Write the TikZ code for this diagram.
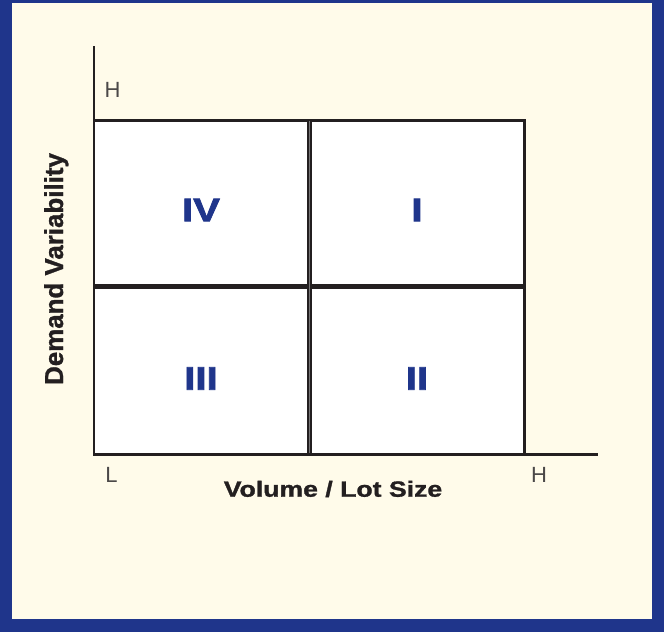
\documentclass[tikz,border=0pt]{standalone}
\usepackage{fontspec}
\usepackage{graphicx}
\setmainfont{Liberation Sans}
\newfontfamily\heavyfont[FakeBold=2]{Liberation Sans Bold}
\newfontfamily\semiheavyfont[FakeBold=1.2]{Liberation Sans Bold}
\definecolor{frameblue}{RGB}{31,53,139}
\definecolor{cream}{RGB}{255,251,234}
\definecolor{ink}{RGB}{35,31,32}
\definecolor{lightink}{RGB}{75,72,72}
\definecolor{midgray}{RGB}{120,118,118}
\tikzset{
  axisline/.style={draw=ink, line width=2.6pt},
  boxline/.style={draw=ink, line width=3pt},
  quad/.style={font=\fontsize{32.6}{34}\heavyfont, text=frameblue, inner sep=0pt},
  tick/.style={font=\fontsize{22}{24}\selectfont, text=lightink, inner sep=0pt},
  axislabel/.style={text=ink, inner sep=0pt}
}
\begin{document}
\begin{tikzpicture}[x=1pt, y=-1pt]
\useasboundingbox (0,0) rectangle (664,632);
\fill[frameblue] (0,0) rectangle (664,632);
\fill[cream] (12,3) rectangle (652,619);
% grid box
\fill[white] (94,120.5) rectangle (524,454);
\coordinate (tl) at (94,120.5);
\coordinate (tr) at (524,120.5);
\coordinate (br) at (524,454.3);
\coordinate (ml) at (94,286.5);
\coordinate (mr) at (524,286.5);
\coordinate (mt) at (309.5,120.5);
\coordinate (mb) at (309.5,454.3);
\coordinate (ytop) at (94,47);
\coordinate (origin) at (94,454.3);
\coordinate (xend) at (597,454.3);
\draw[boxline] (tl) -- (tr) -- (br);
\draw[draw=ink, line width=4.5pt] (ml) -- (mr);
\draw[draw=ink, line width=5pt] (mt) -- (mb);
\draw[draw=midgray, line width=0.8pt] (mt) -- (mb);
\draw[axisline, line cap=rect] (ytop) -- (origin) -- (xend);
% quadrant labels
\node[quad] (q4) at (201,210) {\scalebox{1.23}[1]{IV}};
\node[quad] (q1) at (417,210) {\scalebox{1.23}[1]{I}};
\node[quad] (q3) at (201,378.5) {\scalebox{1.23}[1]{III}};
\node[quad] (q2) at (417,378.5) {\scalebox{1.23}[1]{II}};
% ticks
\node[tick] (hy) at (112.5,90) {H};
\node[tick] (lx) at (111.5,474.5) {L};
\node[tick] (hx) at (539,474.5) {H};
% axis labels
\node[axislabel, anchor=base, font=\fontsize{22}{24}\semiheavyfont] (xl) at (333,496.7) {\scalebox{1.21}[1]{Volume / Lot Size}};
\node[axislabel, anchor=base, rotate=90, font=\fontsize{25.9}{28}\semiheavyfont] (yl) at (63,269) {Demand Variability};
\end{tikzpicture}
\end{document}
